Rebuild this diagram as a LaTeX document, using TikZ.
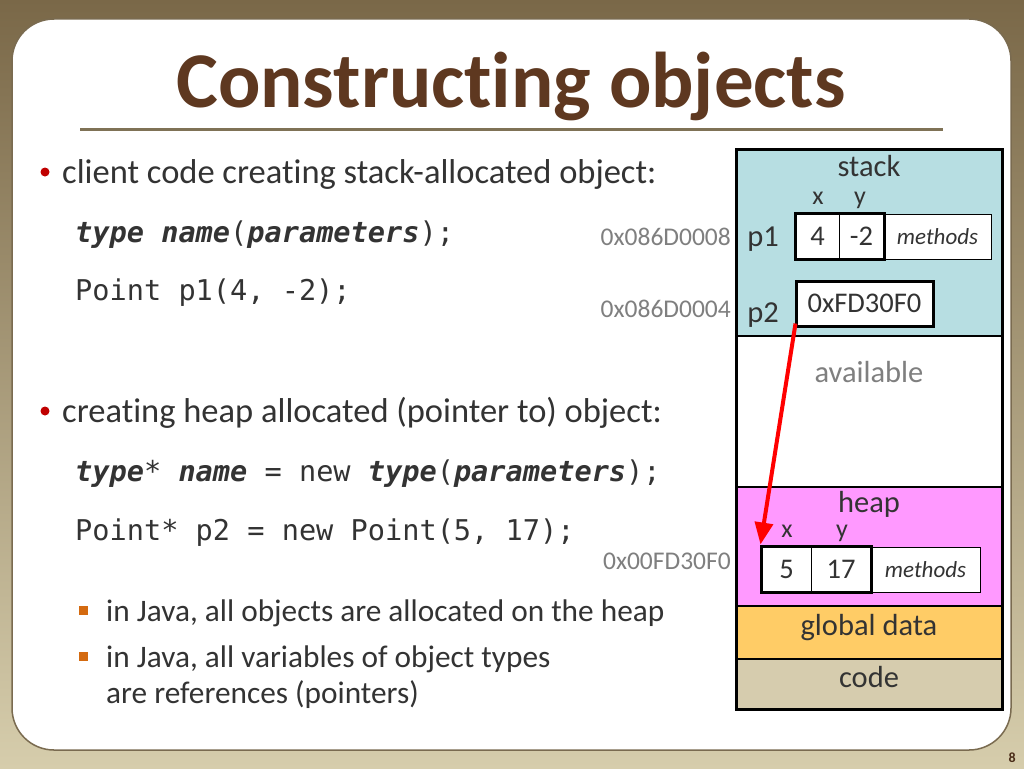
\documentclass[tikz,border=0pt]{standalone}
\usepackage{fontspec}
\setmainfont{Carlito}[Ligatures=NoCommon]
\setmonofont{DejaVu Sans Mono}
\usetikzlibrary{arrows.meta}
\definecolor{bgtop}{HTML}{7A6848}
\definecolor{bgbot}{HTML}{D6CDAC}
\definecolor{panelb}{HTML}{7A6B50}
\definecolor{titlec}{HTML}{5E3820}
\definecolor{rulec}{HTML}{7F7256}
\definecolor{txt}{HTML}{333333}
\definecolor{bulr}{HTML}{C00000}
\definecolor{bulo}{HTML}{D46A10}
\definecolor{stackc}{HTML}{B7DEE2}
\definecolor{heapc}{HTML}{FF99FF}
\definecolor{globc}{HTML}{FFCC66}
\definecolor{codec}{HTML}{D6CCAE}
\definecolor{addrc}{HTML}{7F7F7F}
\definecolor{arrowc}{HTML}{FF0000}
\newcommand{\bi}[1]{\textbf{\textit{#1}}}
\tikzset{
  body/.style={anchor=base west, text=txt, font=\fontsize{34.5}{40}\selectfont, inner sep=0},
  sub/.style={anchor=base west, text=txt, font=\fontsize{31.3}{36}\selectfont, inner sep=0, align=left},
  code/.style={anchor=base west, text=txt, font=\ttfamily\fontsize{28.6}{34}\selectfont, inner sep=0},
  addr/.style={anchor=base east, text=addrc, font=\fontsize{25.5}{30}\selectfont, inner sep=0},
  mem/.style={text=txt, font=\fontsize{30.5}{34}\selectfont, inner sep=0},
  xy/.style={mem, font=\fontsize{26}{30}\selectfont, anchor=base},
  cell/.style={draw=black, line width=1, fill=white, minimum height=45, inner sep=0, font=\fontsize{28.5}{32}\selectfont, text=txt},
  meth/.style={cell, font=\itshape\fontsize{23}{26}\selectfont},
  thick box/.style={draw=black, line width=3},
}
\begin{document}
\begin{tikzpicture}[x=1pt,y=-1pt]
\useasboundingbox (0,0) rectangle (1024,768);
% background
\shade[top color=bgtop, bottom color=bgbot] (0,0) rectangle (1024,768);
\draw[fill=white, draw=panelb, line width=1.5, rounded corners=42] (12,19) rectangle (1011,750);
% title
\node[anchor=base, text=titlec, font=\bfseries\fontsize{79}{84}\selectfont, inner sep=0] (title) at (511,107) {Constructing objects};
\draw[rulec, line width=3] (80,129) -- (943,129);
% bullets
\fill[bulr] (45,172) circle (4.5);
\node[body] (b1) at (62,183) {client code creating stack-allocated object:};
\node[code] (c1) at (75,242) {\bi{type} \bi{name}(\bi{parameters});};
\node[code] (c2) at (75,300) {Point p1(4, -2);};
\fill[bulr] (45,411) circle (4.5);
\node[body] (b2) at (62,422) {creating heap allocated (pointer to) object:};
\node[code] (c3) at (75,481) {\bi{type}* \bi{name} = new \bi{type}(\bi{parameters});};
\node[code] (c4) at (75,540) {Point* p2 = new Point(5, 17);};
\fill[bulo] (78.5,605.5) rectangle (87.5,614.5);
\node[sub] (s1) at (106,621) {in Java, all objects are allocated on the heap};
\fill[bulo] (78.5,651.5) rectangle (87.5,660.5);
\node[sub] (s2) at (106,667) {in Java, all variables of object types};
\node[sub] (s3) at (106,703) {are references (pointers)};
% memory regions
\fill[stackc] (736,149) rectangle (1002,336);
\fill[white] (736,336) rectangle (1002,487);
\fill[heapc] (736,487) rectangle (1002,606);
\fill[globc] (736,606) rectangle (1002,659);
\fill[codec] (736,659) rectangle (1002,709);
\draw[black, line width=1.5] (736,336) -- (1002,336) (736,487) -- (1002,487) (736,606) -- (1002,606) (736,659) -- (1002,659);
\draw[black, line width=3] (736,149) rectangle (1002,709);
% region labels
\node[mem, anchor=base] (lstack) at (869,176) {stack};
\node[mem, anchor=base, text=addrc] (lavail) at (869,382) {available};
\node[mem, anchor=base] (lheap) at (869,512) {heap};
\node[mem, anchor=base] (lglob) at (869,635) {global data};
\node[mem, anchor=base] (lcode) at (869,687) {code};
% stack contents
\node[xy] (sx) at (818,204) {x};
\node[xy] (sy) at (860,204) {y};
\node[mem, anchor=base] (lp1) at (763,246) {p1};
\node[mem, anchor=base] (lp2) at (763,322) {p2};
\node[cell, minimum width=43] (p1x) at (817.5,236.5) {4};
\node[cell, minimum width=45] (p1y) at (861.5,236.5) {-2};
\node[meth, minimum width=107] (p1m) at (937.5,236.5) {methods};
\draw[thick box] (p1x.north west) rectangle (p1y.south east);
\node[cell, thick box, minimum width=137] (p2) at (864.5,303.5) {0xFD30F0};
\node[addr] (a1) at (731,245) {0x086D0008};
\node[addr] (a2) at (731,317) {0x086D0004};
% heap contents
\node[xy] (hx) at (787,537) {x};
\node[xy] (hy) at (842,537) {y};
\node[cell, minimum width=49] (h5) at (786.5,569.5) {5};
\node[cell, minimum width=60] (h17) at (841,569.5) {17};
\node[meth, minimum width=109] (hm) at (925.5,569.5) {methods};
\draw[thick box] (h5.north west) rectangle (h17.south east);
\node[addr] (a3) at (731,569) {0x00FD30F0};
% pointer
\draw[arrowc, line width=4, -{Triangle[length=22,width=18]}] ([shift={(1,-4)}]p2.south west) -- ([shift={(-1,-2)}]h5.north west);
% page number
\node[anchor=base east, text=titlec!80!black, font=\bfseries\fontsize{14}{16}\selectfont, inner sep=0] (pg) at (1016,762) {8};
\end{tikzpicture}
\end{document}
